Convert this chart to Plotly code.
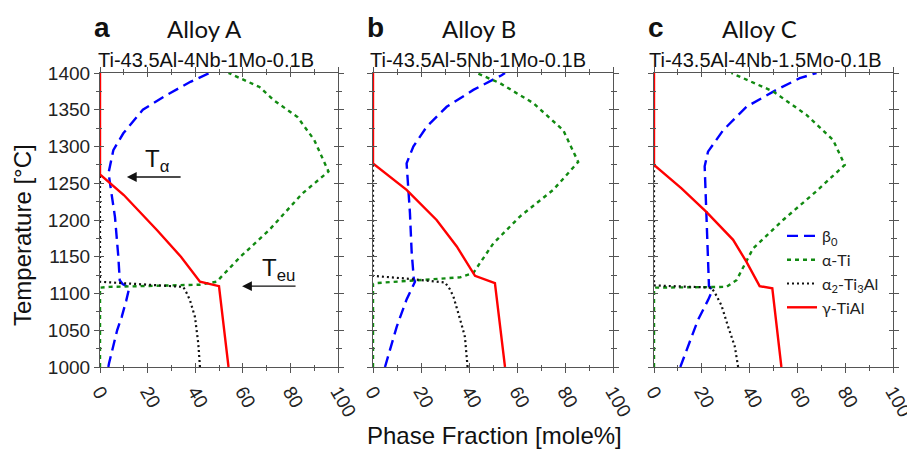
import plotly.graph_objects as go

# ---------------- data ----------------
alloys = ["Alloy A", "Alloy B", "Alloy C"]
letters = ["a", "b", "c"]
compositions = ["Ti-43.5Al-4Nb-1Mo-0.1B", "Ti-43.5Al-5Nb-1Mo-0.1B", "Ti-43.5Al-4Nb-1.5Mo-0.1B"]
phase_names = ["β<sub>0</sub>", "α-Ti", "α<sub>2</sub>-Ti<sub>3</sub>Al", "γ-TiAl"]

x_ticks = [0, 20, 40, 60, 80, 100]
y_ticks = [1000, 1050, 1100, 1150, 1200, 1250, 1300, 1350, 1400]

# Alloy A
a_beta_T = [1000, 1005, 1050, 1068, 1090, 1105, 1108, 1113, 1118, 1150, 1204, 1241, 1264, 1295, 1318, 1350, 1370, 1388, 1400]
a_beta_f = [3.5, 3.8, 7.2, 9.1, 11.0, 12.0, 12.3, 9.5, 8.3, 7.7, 6.3, 4.6, 3.6, 5.6, 9.8, 18.0, 28.0, 38.0, 46.0]
a_alpha_T = [1000, 1108, 1109, 1112, 1116, 1150, 1186, 1236, 1266, 1309, 1340, 1363, 1381, 1400]
a_alpha_f = [0, 0, 4, 42, 49, 59, 71, 85, 96, 90, 83, 73, 67, 54]
a_alpha2_T = [1000, 1032, 1068, 1091, 1100, 1109, 1116, 1262]
a_alpha2_f = [42.0, 41.3, 39.9, 37.8, 36.5, 35.0, 0, 0]
a_gamma_T = [1400, 1262, 1234, 1210, 1186, 1150, 1116, 1110, 1000]
a_gamma_f = [0, 0, 10, 17, 24, 34, 42, 50, 54]

# Alloy B
b_beta_T = [1000, 1055, 1092, 1116, 1120, 1157, 1209, 1250, 1277, 1300, 1327, 1354, 1377, 1397, 1400]
b_beta_f = [5.0, 9.9, 14.0, 17.5, 17.0, 16.1, 15.4, 14.5, 14.0, 16.8, 22.4, 30.7, 41.8, 53.6, 55.0]
b_alpha_T = [1000, 1113, 1114, 1119, 1122, 1128, 1168, 1205, 1241, 1279, 1322, 1359, 1386, 1400]
b_alpha_f = [0, 0, 0.4, 25.0, 36.3, 41.8, 50.1, 61.3, 75.1, 85.5, 79.3, 66.8, 53.0, 43.2]
b_alpha2_T = [1000, 1041, 1059, 1073, 1096, 1106, 1115, 1120, 1124, 1277]
b_alpha2_f = [39.4, 38.3, 36.8, 35.5, 33.5, 32.0, 30.0, 15.0, 0, 0]
b_gamma_T = [1400, 1277, 1241, 1200, 1164, 1124, 1114, 1000]
b_gamma_f = [0, 0, 14.0, 26.5, 34.9, 42.5, 50.8, 55.0]

# Alloy C
c_beta_T = [1000, 1034, 1064, 1091, 1105, 1110, 1146, 1173, 1245, 1273, 1293, 1322, 1354, 1377, 1393, 1400]
c_beta_f = [11.0, 14.9, 18.4, 22.6, 24.5, 23.0, 22.6, 22.2, 21.6, 21.2, 22.6, 28.9, 38.7, 51.2, 61.0, 68.0]
c_alpha_T = [1000, 1107, 1108, 1109, 1118, 1134, 1161, 1200, 1239, 1275, 1309, 1343, 1375, 1400]
c_alpha_f = [0, 0, 0.5, 30.3, 34.5, 37.2, 41.4, 54.0, 67.9, 79.8, 74.9, 63.8, 49.8, 32.4]
c_alpha2_T = [1000, 1028, 1055, 1084, 1102, 1108, 1111, 1275]
c_alpha2_f = [35.2, 33.8, 31.0, 28.2, 25.3, 23.9, 0, 0]
c_gamma_T = [1400, 1275, 1243, 1211, 1173, 1143, 1110, 1107, 1000]
c_gamma_f = [0, 0, 11.5, 21.9, 33.1, 38.7, 44.2, 49.5, 53.3]

panels = [
    [(a_beta_f, a_beta_T), (a_alpha_f, a_alpha_T), (a_alpha2_f, a_alpha2_T), (a_gamma_f, a_gamma_T)],
    [(b_beta_f, b_beta_T), (b_alpha_f, b_alpha_T), (b_alpha2_f, b_alpha2_T), (b_gamma_f, b_gamma_T)],
    [(c_beta_f, c_beta_T), (c_alpha_f, c_alpha_T), (c_alpha2_f, c_alpha2_T), (c_gamma_f, c_gamma_T)],
]

# ---------------- styles ----------------
W, H = 907, 449
line_styles = [
    dict(color="#0000FF", width=2.4, dash="11px,6px"),
    dict(color="#118A11", width=2.4, dash="4px,4px"),
    dict(color="#111111", width=2.2, dash="2px,3px"),
    dict(color="#FF0000", width=2.4),
]
x_domains_px = [(100, 338), (373, 613), (654, 893)]
y_top_px, y_bot_px = 73, 367
ydom = [1 - y_bot_px / H, 1 - y_top_px / H]
axis_col = "#555555"
tick_font = dict(family="Liberation Sans, Arial, sans-serif", size=19, color="#222222")

fig = go.Figure()

for p, series in enumerate(panels):
    xa = "x" if p == 0 else f"x{p+1}"
    ya = "y" if p == 0 else f"y{p+1}"
    for k, (f, T) in enumerate(series):
        fig.add_trace(go.Scatter(
            x=f, y=T, mode="lines", line=line_styles[k], name=phase_names[k],
            xaxis=xa, yaxis=ya, showlegend=(p == 2), legendrank=k + 1,
        ))
    # dummy trace for the overlay (inner-tick) axes
    fig.add_trace(go.Scatter(x=[None], y=[None], xaxis=f"x{p+4}", yaxis=f"y{p+4}",
                             showlegend=False, hoverinfo="skip"))

layout = dict(
    width=W, height=H, margin=dict(l=0, r=0, t=0, b=0, autoexpand=False),
    paper_bgcolor="white", plot_bgcolor="white",
    showlegend=True,
    legend=dict(x=782 / W, y=1 - 219 / H, xanchor="left", yanchor="top",
                font=dict(family="Lato, Open Sans, sans-serif", size=16, color="#222222"),
                bgcolor="rgba(0,0,0,0)", itemwidth=30, tracegroupgap=0,
                traceorder="normal"),
)

for p in range(3):
    d = [x_domains_px[p][0] / W, x_domains_px[p][1] / W]
    sx = "" if p == 0 else str(p + 1)
    layout["xaxis" + sx] = dict(
        domain=d, range=[0, 100], anchor="y" + sx, tickvals=x_ticks,
        ticktext=[str(v) for v in x_ticks], tickangle=60, ticklabeloverflow="allow",
        ticks="outside", ticklen=5, tickwidth=1, tickcolor=axis_col,
        minor=dict(dtick=10, ticks="outside", ticklen=3, tickcolor=axis_col),
        showline=True, linecolor=axis_col, linewidth=1.2, mirror="allticks",
        showgrid=False, zeroline=False, tickfont=tick_font, fixedrange=True, automargin=False,
    )
    layout["yaxis" + sx] = dict(
        domain=ydom, range=[1000, 1400], anchor="x" + sx, tickvals=y_ticks,
        ticktext=[str(v) for v in y_ticks], showticklabels=(p == 0),
        ticks="outside", ticklen=5, tickwidth=1, tickcolor=axis_col,
        minor=dict(dtick=25, ticks="outside", ticklen=3, tickcolor=axis_col),
        showline=True, linecolor=axis_col, linewidth=1.2, mirror="allticks",
        showgrid=False, zeroline=False, tickfont=tick_font, fixedrange=True, automargin=False,
    )
    # overlay axes: inner half of the crossing ticks
    layout[f"xaxis{p+4}"] = dict(
        domain=d, range=[0, 100], overlaying="x" + sx, anchor=f"y{p+4}",
        tickvals=x_ticks, showticklabels=False,
        ticks="inside", ticklen=4, tickwidth=1, tickcolor=axis_col,
        minor=dict(dtick=10, ticks="inside", ticklen=2, tickcolor=axis_col),
        showline=False, mirror="allticks", showgrid=False, zeroline=False, fixedrange=True,
        automargin=False,
    )
    layout[f"yaxis{p+4}"] = dict(
        domain=ydom, range=[1000, 1400], overlaying="y" + sx, anchor=f"x{p+4}",
        tickvals=y_ticks, showticklabels=False,
        ticks="inside", ticklen=4, tickwidth=1, tickcolor=axis_col,
        minor=dict(dtick=25, ticks="inside", ticklen=2, tickcolor=axis_col),
        showline=False, mirror="allticks", showgrid=False, zeroline=False, fixedrange=True,
        automargin=False,
    )

fig.update_layout(**layout)


def paper_text(px, py, text, font, angle=0):
    fig.add_annotation(x=px / W, y=1 - py / H, xref="paper", yref="paper",
                       xanchor="center", yanchor="middle", text=text, showarrow=False,
                       textangle=angle, font=font)


# ---------------- titles ----------------
letter_x = [102, 375, 656]
alloy_x = [204, 479, 759]
comp_x = [206, 478, 765]
f_letter = dict(family="Liberation Sans, Arial, sans-serif", size=28, color="#111111")
f_alloy = dict(family="Lato, Open Sans, sans-serif", size=24, color="#111111")
f_comp = dict(family="Liberation Sans, Arial, sans-serif", size=20, color="#111111")
f_axis = dict(family="Liberation Sans, Arial, sans-serif", size=24, color="#111111")
for p in range(3):
    paper_text(letter_x[p], 27, f"<b>{letters[p]}</b>", f_letter)
    paper_text(alloy_x[p], 28, alloys[p], f_alloy)
    paper_text(comp_x[p], 60, compositions[p], f_comp)

paper_text(22, 235, "Temperature [°C]", f_axis, angle=-90)
paper_text(494, 435, "Phase Fraction [mole%]", f_axis)

# ---------------- T_alpha / T_eu markers ----------------
ann_font = dict(family="Liberation Sans, Arial, sans-serif", size=24, color="#111111")
fig.add_annotation(x=24, y=1281, xref="x", yref="y", xanchor="center", yanchor="middle",
                   text="T<sub>α</sub>", showarrow=False, font=ann_font)
fig.add_annotation(x=11.3, y=1258.5, ax=34.5, ay=1258.5, xref="x", yref="y", axref="x", ayref="y",
                   text="", showarrow=True, arrowhead=2, arrowsize=1.4, arrowwidth=1.4, arrowcolor="#111111")
fig.add_annotation(x=75, y=1133, xref="x", yref="y", xanchor="center", yanchor="middle",
                   text="T<sub>eu</sub>", showarrow=False, font=ann_font)
fig.add_annotation(x=59.7, y=1110, ax=82.8, ay=1110, xref="x", yref="y", axref="x", ayref="y",
                   text="", showarrow=True, arrowhead=2, arrowsize=1.4, arrowwidth=1.4, arrowcolor="#111111")

fig.write_html("out.html", config={"displayModeBar": False},
               post_script="document.body.style.margin='0px';")
